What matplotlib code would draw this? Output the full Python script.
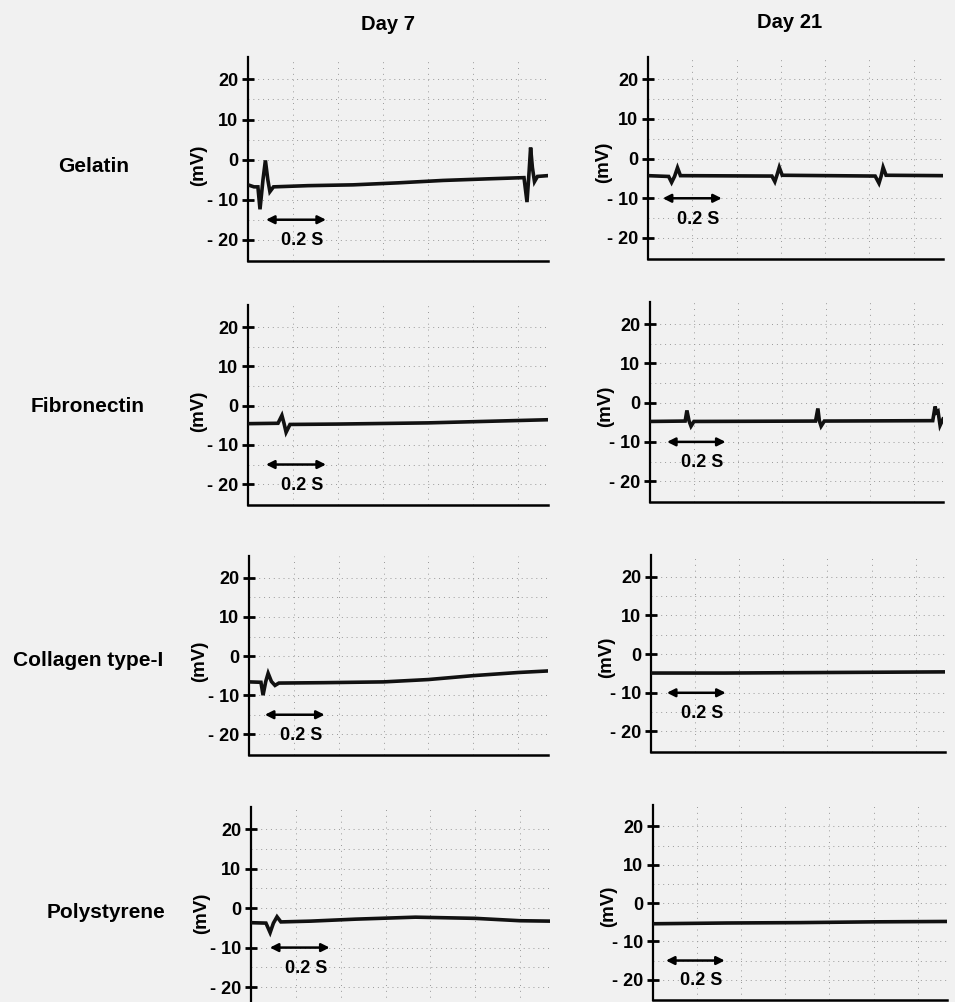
import matplotlib.pyplot as plt

plt.rcParams['font.family'] = ['Liberation Sans', 'DejaVu Sans']
plt.rcParams['font.weight'] = 'bold'

col_titles = ["Day 7", "Day 21"]
row_labels = ["Gelatin", "Fibronectin", "Collagen type-I", "Polystyrene"]
y_ticks = [20, 10, 0, -10, -20]
y_tick_labels = ["20", "10", "0", "- 10", "- 20"]

# traces: time (s) and potential (mV)
gel7_t = [0, 0.02, 0.033, 0.04, 0.05, 0.058, 0.066, 0.073, 0.085, 0.2, 0.35, 0.5, 0.65, 0.8, 0.92, 0.93, 0.937, 0.942, 0.948, 0.955, 0.965, 1.0]
gel7_v = [-6.3, -6.8, -6.8, -12.4, -5.0, -0.2, -5.0, -8.0, -6.8, -6.5, -6.3, -5.8, -5.2, -4.8, -4.5, -10.6, -3.0, 3.0, -2.0, -5.5, -4.2, -4.0]

gel21_t = [0, 0.07, 0.08, 0.09, 0.1, 0.11, 0.42, 0.43, 0.437, 0.445, 0.455, 0.77, 0.783, 0.79, 0.797, 0.807, 1.0]
gel21_v = [-4.3, -4.5, -6.0, -4.5, -2.3, -4.3, -4.4, -5.8, -4.2, -2.2, -4.2, -4.4, -6.2, -4.5, -2.2, -4.2, -4.3]

fib7_t = [0, 0.1, 0.113, 0.12, 0.127, 0.14, 0.3, 0.6, 0.8, 1.0]
fib7_v = [-4.6, -4.5, -2.5, -4.5, -6.8, -4.8, -4.7, -4.4, -4.0, -3.6]

fib21_t = [0, 0.12, 0.126, 0.133, 0.14, 0.15, 0.565, 0.573, 0.578, 0.584, 0.595, 0.965, 0.973, 0.978, 0.983, 0.99, 1.0]
fib21_v = [-4.8, -4.7, -2.0, -4.6, -6.0, -4.8, -4.7, -1.5, -4.6, -6.0, -4.7, -4.6, -1.0, -2.5, -2.2, -5.8, -4.2]

col7_t = [0, 0.04, 0.047, 0.056, 0.064, 0.075, 0.087, 0.1, 0.25, 0.45, 0.6, 0.75, 0.9, 1.0]
col7_v = [-6.6, -6.7, -10.0, -6.5, -4.4, -6.5, -7.5, -6.9, -6.8, -6.6, -6.0, -5.0, -4.2, -3.8]

col21_t = [0, 0.25, 0.5, 0.75, 1.0]
col21_v = [-4.9, -4.9, -4.8, -4.7, -4.6]

poly7_t = [0, 0.05, 0.064, 0.075, 0.087, 0.1, 0.2, 0.35, 0.55, 0.75, 0.9, 1.0]
poly7_v = [-3.7, -3.8, -6.2, -3.8, -2.2, -3.5, -3.3, -2.8, -2.3, -2.6, -3.2, -3.3]

poly21_t = [0, 0.25, 0.5, 0.75, 1.0]
poly21_v = [-5.4, -5.2, -5.1, -4.9, -4.8]

traces = [(gel7_t, gel7_v), (gel21_t, gel21_v),
          (fib7_t, fib7_v), (fib21_t, fib21_v),
          (col7_t, col7_v), (col21_t, col21_v),
          (poly7_t, poly7_v), (poly21_t, poly21_v)]

# scale bar of 0.2 s: start time, bar level (mV)
bar_start = [0.06, 0.05, 0.06, 0.058, 0.053, 0.054, 0.063, 0.044]
bar_level = [-15, -10, -15, -10, -15, -10, -10, -15]

W, H = 955, 1002
# panel boxes in pixels: left, top, right, bottom
boxes = [(248, 57, 548, 261), (648, 57, 943, 259),
         (248, 305, 548, 505), (650, 302, 943, 502),
         (249, 556, 548, 755), (651, 555, 945, 752),
         (251, 807, 550, 1008), (653, 805, 947, 1000)]

fig = plt.figure(figsize=(W / 100, H / 100), dpi=100)
fig.patch.set_facecolor('#f1f1f1')

for i, (t, v) in enumerate(traces):
    l, tp, r, b = boxes[i]
    ax = fig.add_axes([l / W, 1 - b / H, (r - l) / W, (b - tp) / H])
    ax.set_facecolor('none')
    ax.set_xlim(0, 1.0)
    ax.set_ylim(-25.3, 25.6)

    # dotted recorder grid
    for gy in [20, 15, 10, 5, 0, -10, -15, -20]:
        ax.axhline(gy, color='#999999', lw=0.7, ls=(0, (1, 4)), zorder=0)
    for gx in [0.15, 0.3, 0.45, 0.6, 0.75, 0.9]:
        ax.axvline(gx, color='#999999', lw=0.7, ls=(0, (1, 5)), zorder=0)

    ax.plot(t, v, color='#111111', lw=2.6, solid_joinstyle='miter', zorder=3)

    b0 = bar_start[i]
    ax.annotate('', xy=(b0, bar_level[i]), xytext=(b0 + 0.2, bar_level[i]),
                arrowprops=dict(arrowstyle='<|-|>', color='black', lw=1.8,
                                mutation_scale=12, shrinkA=0, shrinkB=0))
    ax.text(b0 + 0.12, bar_level[i] - 5.3, "0.2 S", ha='center', va='center',
            fontsize=13, fontweight='bold')

    for s in ['top', 'right']:
        ax.spines[s].set_visible(False)
    ax.spines['left'].set_linewidth(1.6)
    ax.spines['bottom'].set_linewidth(1.8)
    ax.set_xticks([])
    ax.set_yticks(y_ticks)
    ax.set_yticklabels(y_tick_labels, fontsize=13, fontweight='bold')
    ax.tick_params(axis='y', direction='inout', length=8, width=2, pad=3)
    ax.set_ylabel("(mV)", fontsize=13.5, fontweight='bold')
    if i % 2 == 0:
        ax.yaxis.set_label_coords(-0.137, 0.47)
    else:
        ax.yaxis.set_label_coords(-0.122, 0.48)

# column and row headings
fig.text(388 / W, 1 - 25 / H, col_titles[0], ha='center', va='center', fontsize=14.5, fontweight='bold')
fig.text(790 / W, 1 - 23 / H, col_titles[1], ha='center', va='center', fontsize=14.5, fontweight='bold')
row_x = [94, 88, 88, 106]
row_y = [167, 407, 660, 912]
for name, x, y in zip(row_labels, row_x, row_y):
    fig.text(x / W, 1 - y / H, name, ha='center', va='center', fontsize=15, fontweight='bold')

fig.savefig("out.png", dpi=100, facecolor=fig.get_facecolor())
